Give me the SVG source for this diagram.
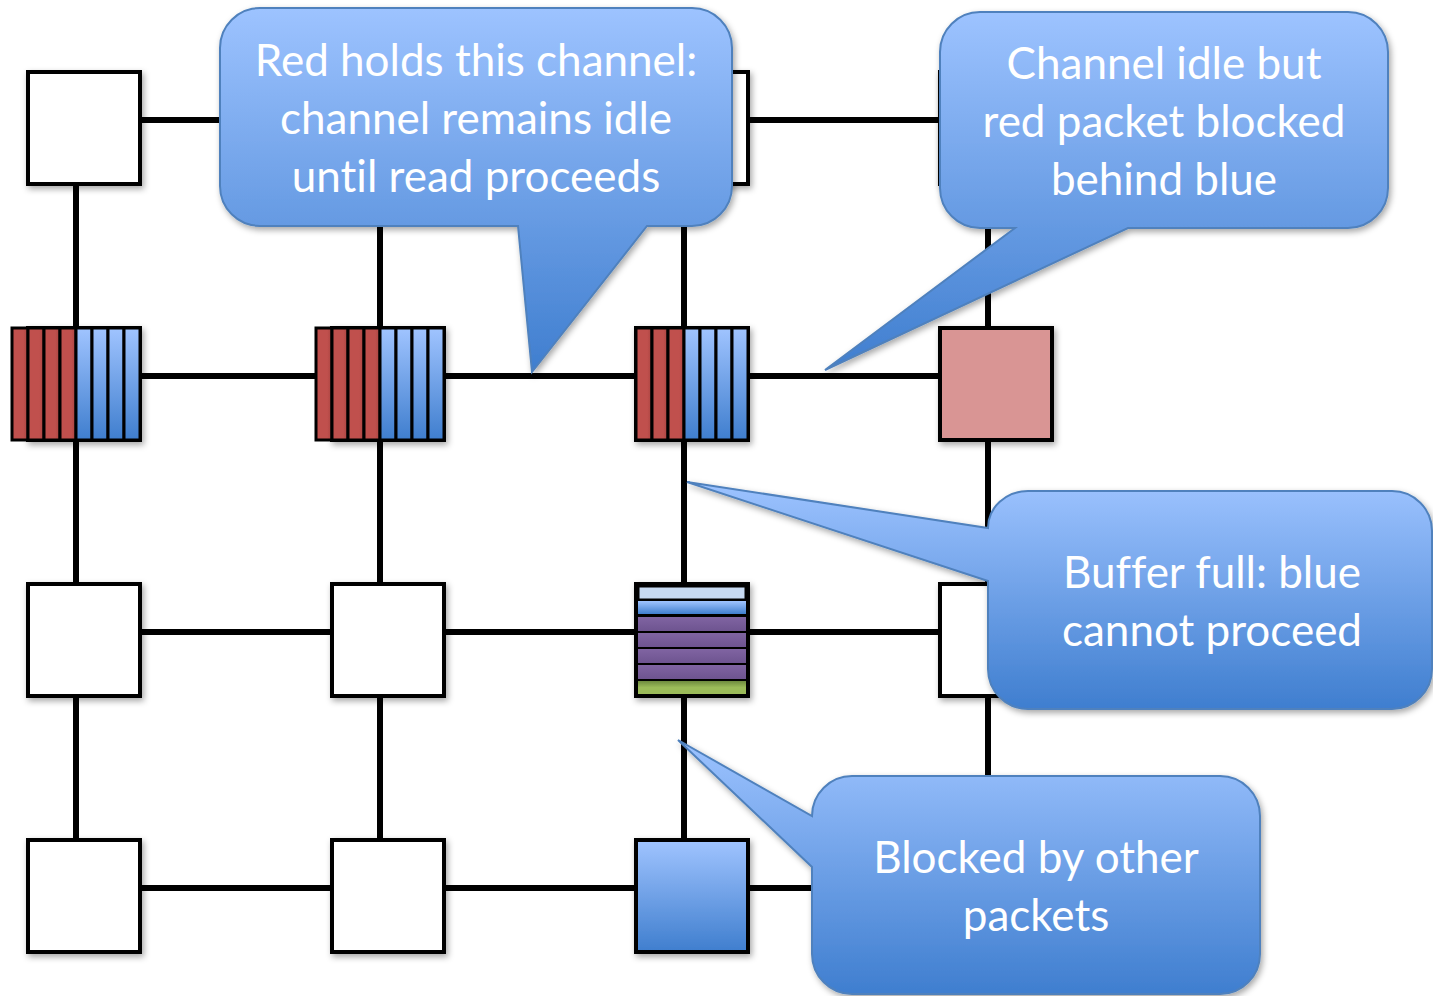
<svg xmlns="http://www.w3.org/2000/svg" width="1433" height="996" viewBox="0 0 1433 996">
<defs>
<linearGradient id="gBlue" x1="0" y1="0" x2="0" y2="1">
<stop offset="0" stop-color="#A0C4FF"/>
<stop offset="1" stop-color="#3F7ECE"/>
</linearGradient>
<linearGradient id="gCallout" x1="0" y1="0" x2="0" y2="1">
<stop offset="0" stop-color="#9DC3FF"/>
<stop offset="1" stop-color="#3F7ECF"/>
</linearGradient>
<linearGradient id="gRed" x1="0" y1="0" x2="1" y2="0">
<stop offset="0" stop-color="#C0504D"/>
<stop offset="0.7" stop-color="#C0504D"/>
<stop offset="1" stop-color="#A94441"/>
</linearGradient>
<linearGradient id="gPurple" x1="0" y1="0" x2="0" y2="1">
<stop offset="0" stop-color="#8064A2"/>
<stop offset="1" stop-color="#6E5490"/>
</linearGradient>
<linearGradient id="gGreen" x1="0" y1="0" x2="0" y2="1">
<stop offset="0" stop-color="#6E8A3E"/>
<stop offset="0.5" stop-color="#9BBB59"/>
<stop offset="1" stop-color="#9BBB59"/>
</linearGradient>
<filter id="sh" x="-20%" y="-20%" width="140%" height="140%">
<feDropShadow dx="2" dy="3" stdDeviation="3" flood-color="#000" flood-opacity="0.35"/>
</filter>
</defs>
<style>
.ln{stroke:#000;stroke-width:6;fill:none}
.nd{fill:#fff;stroke:#000;stroke-width:4;filter:url(#sh)}
.st{stroke:#000;stroke-width:3}
.red{fill:url(#gRed)}
.blu{fill:url(#gBlue)}
.co{fill:url(#gCallout);stroke:#4F81BD;stroke-width:2;filter:url(#sh)}
.tx{font-family:Lato,"Open Sans",sans-serif;font-size:44px;fill:#fff;text-anchor:middle;font-variant-ligatures:none}
</style>
<g id="connectors">
<line class="ln" x1="76" y1="120" x2="988" y2="120"/>
<line class="ln" x1="76" y1="376" x2="988" y2="376"/>
<line class="ln" x1="76" y1="632" x2="988" y2="632"/>
<line class="ln" x1="76" y1="888" x2="900" y2="888"/>
<line class="ln" x1="76" y1="120" x2="76" y2="888"/>
<line class="ln" x1="380" y1="120" x2="380" y2="888"/>
<line class="ln" x1="684" y1="120" x2="684" y2="888"/>
<line class="ln" x1="988" y1="120" x2="988" y2="800"/>
</g>
<g id="n00"><rect class="nd" x="28" y="72" width="112" height="112"/></g>
<g id="n02"><rect class="nd" x="636" y="72" width="112" height="112"/></g>
<g id="n03"><rect class="nd" x="940" y="72" width="112" height="112"/></g>
<g id="n10">
<rect class="nd" x="28" y="328" width="112" height="112"/>
<rect class="st red" x="12" y="328" width="16" height="112"/>
<rect class="st red" x="28" y="328" width="16" height="112"/>
<rect class="st red" x="44" y="328" width="16" height="112"/>
<rect class="st red" x="60" y="328" width="16" height="112"/>
<rect class="st blu" x="76" y="328" width="16" height="112"/>
<rect class="st blu" x="92" y="328" width="16" height="112"/>
<rect class="st blu" x="108" y="328" width="16" height="112"/>
<rect class="st blu" x="124" y="328" width="16" height="112"/>
</g>
<g id="n11">
<rect class="nd" x="332" y="328" width="112" height="112"/>
<rect class="st red" x="316" y="328" width="16" height="112"/>
<rect class="st red" x="332" y="328" width="16" height="112"/>
<rect class="st red" x="348" y="328" width="16" height="112"/>
<rect class="st red" x="364" y="328" width="16" height="112"/>
<rect class="st blu" x="380" y="328" width="16" height="112"/>
<rect class="st blu" x="396" y="328" width="16" height="112"/>
<rect class="st blu" x="412" y="328" width="16" height="112"/>
<rect class="st blu" x="428" y="328" width="16" height="112"/>
</g>
<g id="n12">
<rect class="nd" x="636" y="328" width="112" height="112"/>
<rect class="st red" x="636" y="328" width="16" height="112"/>
<rect class="st red" x="652" y="328" width="16" height="112"/>
<rect class="st red" x="668" y="328" width="16" height="112"/>
<rect class="st blu" x="684" y="328" width="16" height="112"/>
<rect class="st blu" x="700" y="328" width="16" height="112"/>
<rect class="st blu" x="716" y="328" width="16" height="112"/>
<rect class="st blu" x="732" y="328" width="16" height="112"/>
</g>
<g id="n13"><rect class="nd" x="940" y="328" width="112" height="112" style="fill:#D99594"/></g>
<g id="n20"><rect class="nd" x="28" y="584" width="112" height="112"/></g>
<g id="n21"><rect class="nd" x="332" y="584" width="112" height="112"/></g>
<g id="n22">
<rect class="nd" x="636" y="584" width="112" height="112" style="fill:#000"/>
<rect x="639" y="587" width="106" height="12" fill="#C6D9F1" stroke="#000" stroke-width="1"/>
<rect x="638" y="601" width="108" height="13" fill="url(#gBlue)"/>
<rect x="638" y="617" width="108" height="14" fill="url(#gPurple)"/>
<rect x="638" y="633" width="108" height="14" fill="url(#gPurple)"/>
<rect x="638" y="649" width="108" height="14" fill="url(#gPurple)"/>
<rect x="638" y="665" width="108" height="14" fill="url(#gPurple)"/>
<rect x="638" y="681" width="108" height="13" fill="url(#gGreen)"/>
</g>
<g id="n23"><rect class="nd" x="940" y="584" width="112" height="112"/></g>
<g id="n30"><rect class="nd" x="28" y="840" width="112" height="112"/></g>
<g id="n31"><rect class="nd" x="332" y="840" width="112" height="112"/></g>
<g id="n32"><rect class="nd" x="636" y="840" width="112" height="112" style="fill:url(#gBlue)"/></g>
<g id="callout1">
<path class="co" d="M260,8 H692 A40,40 0 0 1 732,48 V186 A40,40 0 0 1 692,226 H647 L532,372 L518,226 H260 A40,40 0 0 1 220,186 V48 A40,40 0 0 1 260,8 Z"/>
<text class="tx" x="476" y="76">Red holds this channel:</text>
<text class="tx" x="476" y="134">channel remains idle</text>
<text class="tx" x="476" y="192">until read proceeds</text>
</g>
<g id="callout2">
<path class="co" d="M980,12 H1348 A40,40 0 0 1 1388,52 V188 A40,40 0 0 1 1348,228 H1128 L825,370 L1015,228 H980 A40,40 0 0 1 940,188 V52 A40,40 0 0 1 980,12 Z"/>
<text class="tx" x="1164" y="79">Channel idle but</text>
<text class="tx" x="1164" y="137">red packet blocked</text>
<text class="tx" x="1164" y="195">behind blue</text>
</g>
<g id="callout3">
<path class="co" d="M1028,491 H1392 A40,40 0 0 1 1432,531 V669 A40,40 0 0 1 1392,709 H1028 A40,40 0 0 1 988,669 V581 L687,482 L988,528 A40,37 0 0 1 1028,491 Z"/>
<text class="tx" x="1212" y="588">Buffer full: blue</text>
<text class="tx" x="1212" y="646">cannot proceed</text>
</g>
<g id="callout4">
<path class="co" d="M852,776 H1220 A40,40 0 0 1 1260,816 V954 A40,40 0 0 1 1220,994 H852 A40,40 0 0 1 812,954 V867 L678,740 L812,816 A40,40 0 0 1 852,776 Z"/>
<text class="tx" x="1036" y="873">Blocked by other</text>
<text class="tx" x="1036" y="931">packets</text>
</g>
</svg>
